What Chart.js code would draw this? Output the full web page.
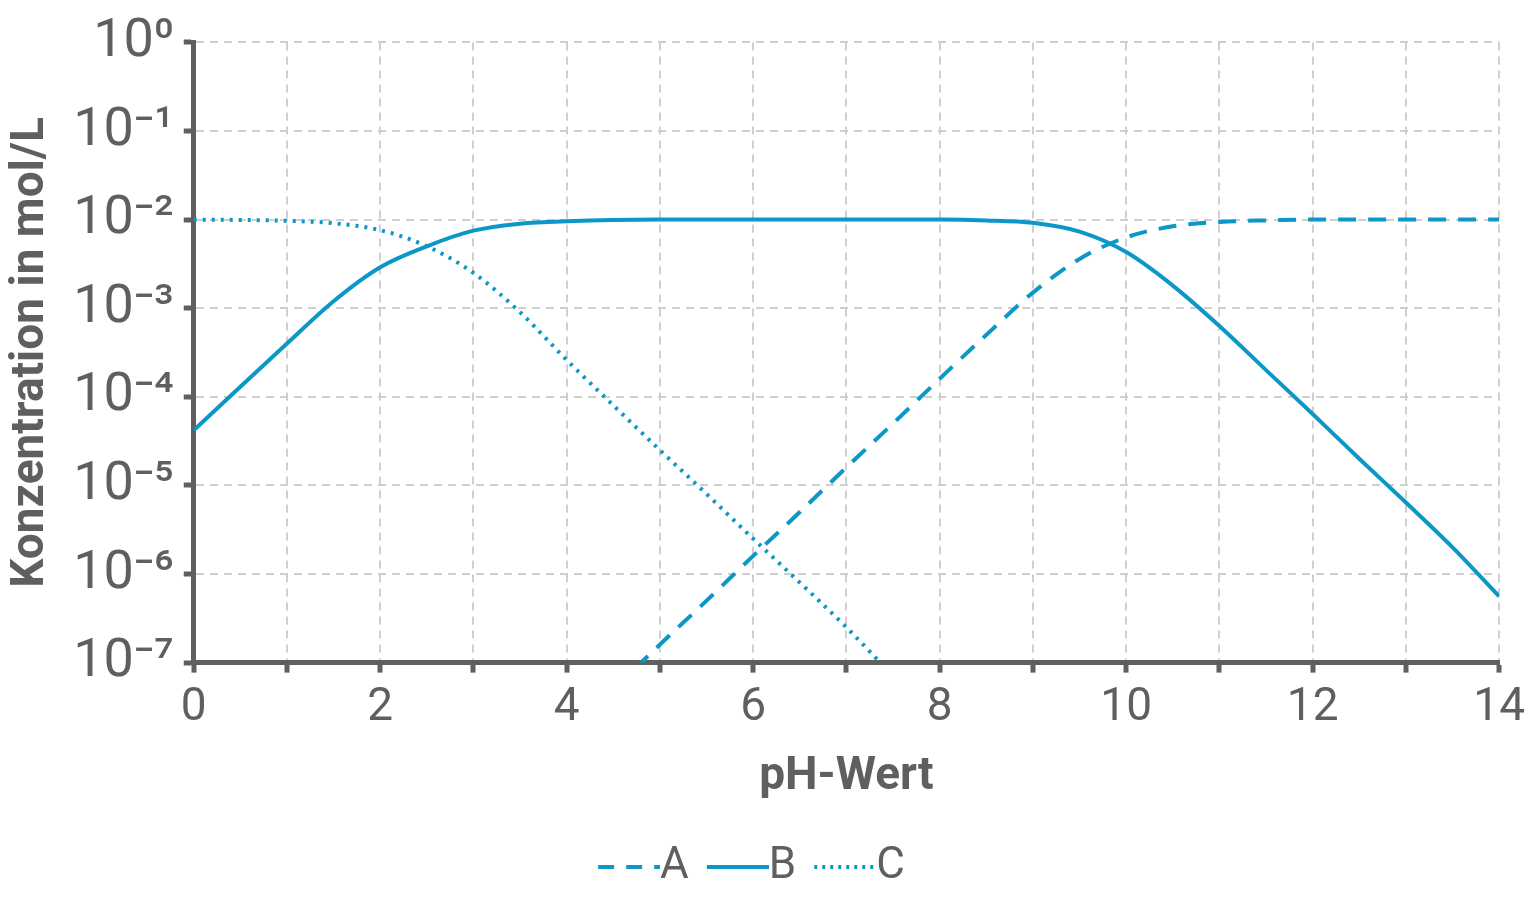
<!DOCTYPE html>
<html>
<head>
<meta charset="utf-8">
<script src="https://cdn.jsdelivr.net/npm/chart.js@4.4.1/dist/chart.umd.min.js"></script>
<style>
  html, body { margin: 0; background: #fff; }
  #wrap { width: 1533px; height: 907px; }
</style>
</head>
<body>
<div id="wrap"><canvas id="chart"></canvas></div>
<script>
const COLOR = "#0d97c8";
const GREY = "#5f5f5f";

// values (pH, mol/L)
const phA = [4.5, 5, 5.5, 6, 6.5, 7, 7.5, 8, 8.5, 9, 9.5, 10, 10.5, 11, 11.5, 12, 13, 14];
const concA = [5e-8, 1.6e-7, 5e-7, 1.6e-6, 5e-6, 1.6e-5, 5e-5, 1.6e-4, 5e-4, 1.5e-3, 3.6e-3, 6.3e-3, 8.4e-3, 9.4e-3, 9.8e-3, 1e-2, 1e-2, 1e-2];

const phB = [0, 0.5, 1, 1.5, 2, 2.5, 3, 3.5, 4, 5, 6, 7, 8, 8.5, 9, 9.5, 10, 10.5, 11, 11.5, 12, 12.5, 13, 13.5, 14];
const concB = [4.2e-5, 1.3e-4, 4e-4, 1.2e-3, 2.9e-3, 5e-3, 7.5e-3, 9e-3, 9.6e-3, 1e-2, 1e-2, 1e-2, 1e-2, 9.8e-3, 9.2e-3, 7.3e-3, 4.3e-3, 1.8e-3, 6.3e-4, 2e-4, 6.4e-5, 2e-5, 6.4e-6, 2e-6, 5.6e-7];

const phC = [0, 0.5, 1, 1.5, 2, 2.5, 3, 3.5, 4, 4.5, 5, 5.5, 6, 6.5, 7, 7.5];
const concC = [1e-2, 9.9e-3, 9.7e-3, 9.1e-3, 7.6e-3, 5e-3, 2.5e-3, 9e-4, 2.6e-4, 8e-5, 2.5e-5, 8e-6, 2.5e-6, 8e-7, 2.5e-7, 7e-8];

const yTicks = [1e-7, 1e-6, 1e-5, 1e-4, 1e-3, 1e-2, 1e-1, 1];
const yLabels = ["10⁻⁷", "10⁻⁶", "10⁻⁵", "10⁻⁴", "10⁻³", "10⁻²", "10⁻¹", "10⁰"];

function toPoints(xs, ys) {
  return xs.map((x, i) => ({ x, y: ys[i] }));
}

function legendIcon(dash) {
  const c = document.createElement("canvas");
  c.width = 84;
  c.height = 10;
  const ctx = c.getContext("2d");
  ctx.strokeStyle = COLOR;
  ctx.lineWidth = 4;
  ctx.setLineDash(dash);
  ctx.beginPath();
  ctx.moveTo(22, 5);
  ctx.lineTo(84, 5);
  ctx.stroke();
  return c;
}

const series = [
  { label: "A", xs: phA, ys: concA, dash: [18, 12], icon: [16, 12] },
  { label: "B", xs: phB, ys: concB, dash: [], icon: [] },
  { label: "C", xs: phC, ys: concC, dash: [3, 6], icon: [3, 5] }
];

Chart.defaults.font.family = "Roboto";
Chart.defaults.color = GREY;

new Chart(document.getElementById("chart"), {
  type: "line",
  data: {
    datasets: series.map((s) => ({
      label: s.label,
      data: toPoints(s.xs, s.ys),
      borderColor: COLOR,
      borderWidth: 4,
      borderDash: s.dash,
      pointRadius: 0,
      cubicInterpolationMode: "monotone",
      pointStyle: legendIcon(s.icon)
    }))
  },
  options: {
    responsive: true,
    maintainAspectRatio: false,
    animation: false,
    layout: { padding: { top: 24, right: 30, left: 0, bottom: 8 } },
    plugins: {
      legend: {
        position: "bottom",
        labels: { usePointStyle: true, font: { size: 44 }, color: GREY, padding: 18 }
      },
      tooltip: { enabled: false }
    },
    scales: {
      x: {
        type: "linear",
        min: 0,
        max: 14,
        ticks: {
          stepSize: 1,
          font: { size: 46 },
          color: GREY,
          autoSkip: false,
          maxRotation: 0,
          padding: 8,
          callback: (v) => (v % 2 === 0 ? v : "")
        },
        grid: { color: "#cfcfcf", lineWidth: 2, tickLength: 10, tickColor: GREY, tickWidth: 5 },
        border: { color: GREY, width: 5, dash: [8, 6] },
        title: { display: true, text: "pH-Wert", font: { size: 46, weight: "bold" }, color: GREY, padding: { top: 6, bottom: 22 } }
      },
      y: {
        type: "logarithmic",
        min: 1e-7,
        max: 1,
        afterBuildTicks: (axis) => {
          axis.ticks = yTicks.map((v) => ({ value: v }));
        },
        ticks: {
          font: { size: 54 },
          color: GREY,
          padding: 10,
          callback: (v) => yLabels[yTicks.findIndex((t) => Math.abs(t - v) / t < 1e-6)]
        },
        grid: { color: "#cfcfcf", lineWidth: 2, tickLength: 10, tickColor: GREY, tickWidth: 5 },
        border: { color: GREY, width: 5, dash: [8, 6] },
        title: { display: true, text: "Konzentration in mol/L", font: { size: 46, weight: "bold" }, color: GREY, padding: { bottom: 4 } }
      }
    }
  }
});
</script>
</body>
</html>
